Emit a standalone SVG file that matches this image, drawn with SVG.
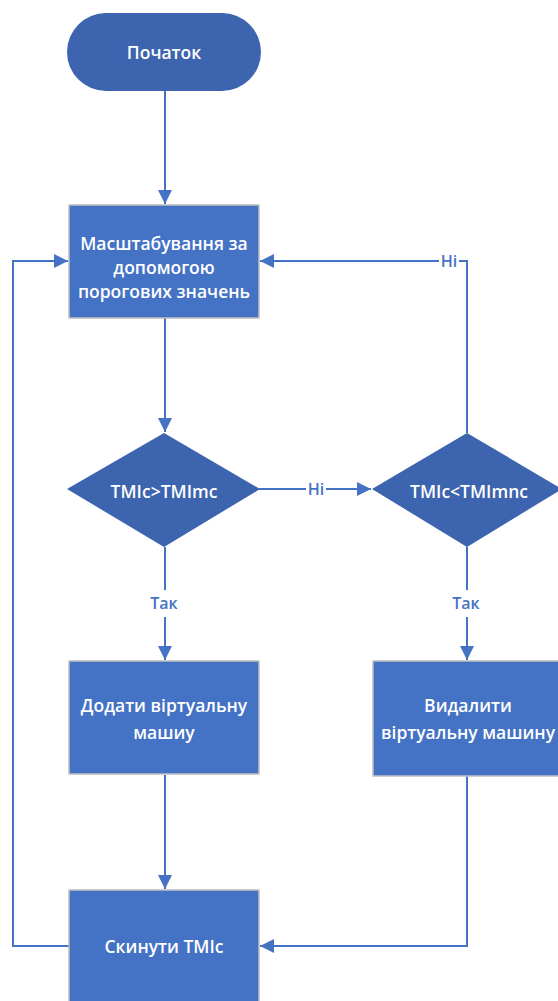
<svg xmlns="http://www.w3.org/2000/svg" width="558" height="1001" viewBox="0 0 558 1001">
<defs>
<style>
.t{font-family:"Open Sans","DejaVu Sans",sans-serif;font-size:17.5px;font-weight:600;fill:#ffffff;text-anchor:middle;dominant-baseline:central}
.lbl{font-family:"Open Sans","DejaVu Sans",sans-serif;font-size:16px;font-weight:600;fill:#4472c4;text-anchor:middle;dominant-baseline:central}
.box{fill:#4472c4;stroke:#c0c0c0;stroke-width:1.5}
.dark{fill:#3d64ae}
.ln{fill:none;stroke:#4472c4;stroke-width:2}
</style>
<marker id="ah" viewBox="0 0 10 10" refX="10" refY="5" markerWidth="14" markerHeight="18" markerUnits="userSpaceOnUse" orient="auto">
<path d="M0,0 L10,5 L0,10 Z" fill="#4472c4"/>
</marker>
</defs>
<rect width="558" height="1001" fill="#ffffff"/>
<g id="connectors">
<path class="ln" d="M165,91 V204" marker-end="url(#ah)"/>
<path class="ln" d="M165,318 V432" marker-end="url(#ah)"/>
<path class="ln" d="M259,489 H306 M326,489 H371" marker-end="url(#ah)"/>
<path class="ln" d="M165,547 V590 M165,617 V660" marker-end="url(#ah)"/>
<path class="ln" d="M467,547 V590 M467,617 V660" marker-end="url(#ah)"/>
<path class="ln" d="M467,433 V261 H459 M439,261 H260" marker-end="url(#ah)"/>
<path class="ln" d="M165,775 V889" marker-end="url(#ah)"/>
<path class="ln" d="M467,776 V946 H260" marker-end="url(#ah)"/>
<path class="ln" d="M69,946 H13 V261 H68" marker-end="url(#ah)"/>
<text class="lbl" x="316" y="489">Ні</text>
<text class="lbl" x="449" y="261">Ні</text>
<text class="lbl" x="164" y="603">Так</text>
<text class="lbl" x="466" y="603">Так</text>
</g>
<g id="start">
<rect class="dark" x="67" y="13" width="194" height="78" rx="39"/>
<text class="t" x="164" y="52">Початок</text>
</g>
<g id="scale">
<rect class="box" x="69" y="205" width="190" height="113"/>
<text class="t" x="164" y="243">Масштабування за</text>
<text class="t" x="164" y="267">допомогою</text>
<text class="t" x="164" y="291">порогових значень</text>
</g>
<g id="dec1">
<polygon class="dark" points="164,433 260,489 164,547 67,489"/>
<text class="t" x="164" y="491">TMIc&gt;TMImc</text>
</g>
<g id="dec2">
<polygon class="dark" points="467,433 562,489 467,547 372,489"/>
<text class="t" x="469" y="491">TMIc&lt;TMImnc</text>
</g>
<g id="add">
<rect class="box" x="69" y="661" width="190" height="113"/>
<text class="t" x="164" y="705">Додати віртуальну</text>
<text class="t" x="164" y="732">машиу</text>
</g>
<g id="remove">
<rect class="box" x="373" y="661" width="190" height="115"/>
<text class="t" x="468" y="705">Видалити</text>
<text class="t" x="468" y="732">віртуальну машину</text>
</g>
<g id="reset">
<rect class="box" x="69" y="890" width="190" height="120"/>
<text class="t" x="164" y="946">Скинути TMIc</text>
</g>
</svg>
